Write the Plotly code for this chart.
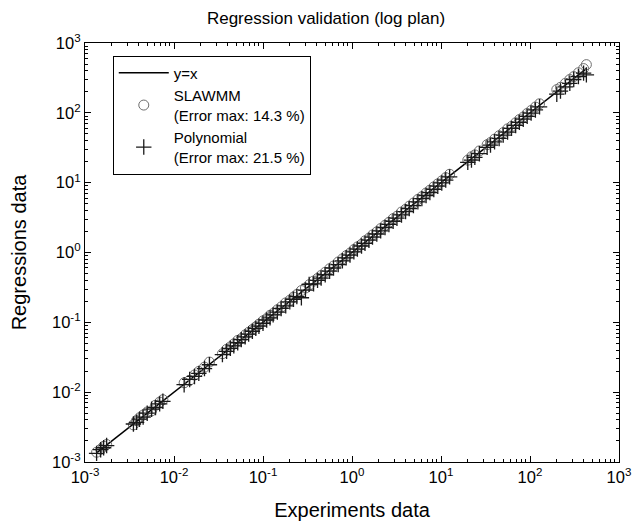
import plotly.graph_objects as go

# experiments data (x) and the two regressions (y)
experiments = [0.00135, 0.0015, 0.00162, 0.00175,
               0.0035, 0.0038, 0.0041, 0.0045, 0.005, 0.0056, 0.0062, 0.0069, 0.0075,
               0.013, 0.015, 0.017, 0.019, 0.022, 0.025,
               0.035, 0.039, 0.043, 0.047, 0.052, 0.057, 0.063, 0.069, 0.076, 0.083, 0.09,
               0.1, 0.11, 0.12, 0.13, 0.145, 0.16, 0.18, 0.2, 0.22, 0.24, 0.27, 0.3, 0.33,
               0.37, 0.41, 0.45, 0.5, 0.56, 0.62, 0.7, 0.78, 0.86, 0.95,
               1.05, 1.15, 1.28, 1.4, 1.55, 1.7, 1.9, 2.1, 2.35, 2.6, 2.9, 3.2, 3.6, 4.0,
               4.4, 4.9, 5.5, 6.1, 6.8, 7.5, 8.3, 9.2, 10.2, 11.3, 12.5,
               20, 22, 24, 27,
               33, 36, 40, 45, 50, 56, 62, 69, 76, 84, 93, 103, 115, 128,
               200, 220, 250, 280, 310, 350, 400, 430]

slawmm = [0.00138, 0.00152, 0.00168, 0.00178,
          0.0034, 0.0039, 0.0043, 0.0047, 0.0052, 0.0054, 0.0065, 0.0072, 0.0078,
          0.0136, 0.0148, 0.0176, 0.0198, 0.0228, 0.027,
          0.0355, 0.041, 0.0445, 0.049, 0.055, 0.0585, 0.066, 0.072, 0.079, 0.086, 0.094,
          0.105, 0.113, 0.126, 0.134, 0.151, 0.166, 0.19, 0.207, 0.23, 0.25, 0.285, 0.31, 0.345,
          0.39, 0.425, 0.47, 0.52, 0.585, 0.64, 0.73, 0.81, 0.9, 0.98,
          1.1, 1.2, 1.31, 1.47, 1.6, 1.78, 1.97, 2.2, 2.45, 2.7, 3.05, 3.3, 3.8, 4.15,
          4.6, 5.1, 5.75, 6.3, 7.1, 7.8, 8.7, 9.6, 10.6, 11.8, 13.2,
          21, 23.5, 25, 28.5,
          35, 37.5, 42, 47, 52, 59, 64, 72, 80, 87, 98, 108, 121, 135,
          215, 232, 265, 300, 330, 375, 430, 490]

polynomial = [0.00133, 0.0015, 0.0016, 0.00172,
              0.0035, 0.0037, 0.0041, 0.0044, 0.005, 0.0057, 0.006, 0.0068, 0.0074,
              0.0128, 0.0152, 0.0168, 0.0186, 0.0218, 0.0247,
              0.0345, 0.0385, 0.0425, 0.046, 0.051, 0.0565, 0.062, 0.068, 0.0745, 0.082, 0.088,
              0.097, 0.108, 0.116, 0.128, 0.14, 0.158, 0.172, 0.196, 0.214, 0.234, 0.225, 0.29, 0.35,
              0.355, 0.4, 0.43, 0.48, 0.54, 0.6, 0.67, 0.76, 0.84, 0.92,
              1.02, 1.12, 1.24, 1.35, 1.5, 1.66, 1.84, 2.04, 2.28, 2.52, 2.8, 3.1, 3.45, 3.85,
              4.25, 4.7, 5.3, 5.9, 6.55, 7.2, 8.0, 8.9, 9.9, 10.9, 12.1,
              19.5, 21, 23, 26,
              32, 34.5, 38.5, 43, 48, 53, 60, 66, 73, 81, 89, 99, 110, 122,
              185, 205, 235, 265, 300, 330, 370, 350]

line_x = [0.00135, 430]

tick_vals = [1e-3, 1e-2, 1e-1, 1, 10, 100, 1000]
tick_text = ["10<sup>-3</sup>", "10<sup>-2</sup>", "10<sup>-1</sup>", "10<sup>0</sup>",
             "10<sup>1</sup>", "10<sup>2</sup>", "10<sup>3</sup>"]

fig = go.Figure()
fig.add_trace(go.Scatter(x=line_x, y=line_x, mode="lines", name="y=x",
                         line=dict(color="black", width=1.5)))
fig.add_trace(go.Scatter(x=experiments, y=slawmm, mode="markers",
                         name="SLAWMM<br>(Error max: 14.3 %)",
                         marker=dict(symbol="circle-open", size=10, color="#6e6e6e",
                                     line=dict(width=1))))
fig.add_trace(go.Scatter(x=experiments, y=polynomial, mode="markers",
                         name="Polynomial<br>(Error max: 21.5 %)",
                         marker=dict(symbol="cross-thin-open", size=11, color="#1a1a1a",
                                     line=dict(width=1.3, color="#1a1a1a"))))

axis_style = dict(type="log", range=[-3, 3], tickvals=tick_vals, ticktext=tick_text,
                  ticks="inside", ticklen=6, tickcolor="black", linecolor="black",
                  linewidth=1.2, mirror="allticks", showline=True, showgrid=False,
                  zeroline=False, automargin=False, tickfont=dict(size=16.5, color="black"),
                  minor=dict(dtick="D1", ticks="inside", ticklen=3, tickcolor="black",
                             showgrid=False))

fig.update_xaxes(**axis_style, title=dict(text="Experiments data", standoff=18,
                                          font=dict(size=20, color="black")))
fig.update_yaxes(**axis_style, title=dict(text="Regressions data", standoff=19,
                                          font=dict(size=20, color="black")))

# the page body adds an 8px offset, so the figure is 8px smaller than the window
fig.update_layout(
    width=636, height=516,
    margin=dict(l=77, r=25, t=35, b=62),
    paper_bgcolor="white", plot_bgcolor="white",
    font=dict(family="Liberation Sans, Arial", color="black"),
    title=dict(text="Regression validation (log plan)", x=0.5, xanchor="center",
               y=0.98, yanchor="middle", font=dict(size=17, color="black")),
    legend=dict(x=0.052, y=0.97, xanchor="left", yanchor="top",
                bordercolor="black", borderwidth=1, bgcolor="white", itemwidth=50,
                font=dict(size=15, color="black"), tracegroupgap=0),
)

fig.write_html("out.html")
